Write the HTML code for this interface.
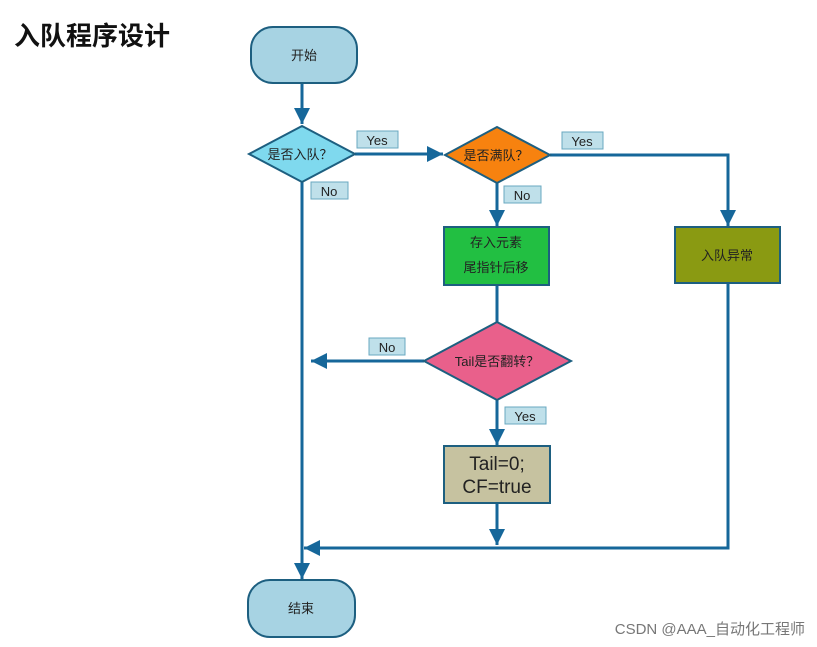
<!DOCTYPE html>
<html><head><meta charset="utf-8"><style>body{margin:0;background:#fff}svg{display:block}text{font-family:"Liberation Sans","Noto Sans CJK SC",sans-serif}</style></head><body>
<svg width="817" height="647" viewBox="0 0 817 647">
<defs><marker id="a" markerWidth="8" markerHeight="8" refX="6" refY="4" orient="auto" markerUnits="userSpaceOnUse"><path d="M0,0 L8,4 L0,8z" fill="#16679a"/></marker>
<marker id="b" markerWidth="18" markerHeight="16" refX="16" refY="8" orient="auto" markerUnits="userSpaceOnUse"><path d="M0,0 L16,8 L0,16z" fill="#16679a"/></marker></defs>
<text x="14" y="45" font-size="26" font-weight="bold" fill="#111">入队程序设计</text>
<g stroke="#16679a" stroke-width="3" fill="none">
<line x1="302" y1="83" x2="302" y2="124" marker-end="url(#b)"/>
<line x1="355" y1="154" x2="443" y2="154" marker-end="url(#b)"/>
<polyline points="550,155 728,155 728,226" marker-end="url(#b)"/>
<line x1="497" y1="183" x2="497" y2="226" marker-end="url(#b)"/>
<line x1="497" y1="285" x2="497" y2="322"/>
<line x1="424" y1="361" x2="311" y2="361" marker-end="url(#b)"/>
<line x1="497" y1="400" x2="497" y2="445" marker-end="url(#b)"/>
<line x1="497" y1="503" x2="497" y2="545" marker-end="url(#b)"/>
<polyline points="728,283 728,548 304,548" marker-end="url(#b)"/>
<line x1="302" y1="182" x2="302" y2="579" marker-end="url(#b)"/>
</g>
<g stroke="#1d5f80" stroke-width="2">
<rect x="251" y="27" width="106" height="56" rx="22" fill="#a7d3e3"/>
<rect x="248" y="580" width="107" height="57" rx="22" fill="#a7d3e3"/>
<polygon points="249,154 302,126 355,154 302,182" fill="#7fd9ee"/>
<polygon points="445,155 497,127 550,155 497,183" fill="#f7820f"/>
<rect x="444" y="227" width="105" height="58" fill="#22bf42"/>
<rect x="675" y="227" width="105" height="56" fill="#8a9a12"/>
<polygon points="424,361 497,322 571,361 497,400" fill="#e9608b"/>
<rect x="444" y="446" width="106" height="57" fill="#c6c2a0"/>
</g>
<g fill="#bfe0ea" stroke="#6aa8c0" stroke-width="1">
<rect x="357" y="131" width="41" height="17"/>
<rect x="311" y="182" width="37" height="17"/>
<rect x="562" y="132" width="41" height="17"/>
<rect x="504" y="186" width="37" height="17"/>
<rect x="369" y="338" width="36" height="17"/>
<rect x="505" y="407" width="41" height="17"/>
</g>
<g font-size="13" fill="#222" text-anchor="middle">
<text x="377" y="145">Yes</text><text x="329" y="196">No</text>
<text x="582" y="146">Yes</text><text x="522" y="200">No</text>
<text x="387" y="352">No</text><text x="525" y="421">Yes</text>
<text x="304" y="60">开始</text><text x="301" y="613">结束</text>
<text x="300" y="159">是否入队？</text>
<text x="496" y="160">是否满队？</text>
<text x="496" y="247">存入元素</text><text x="496" y="272">尾指针后移</text>
<text x="727" y="260">入队异常</text>
<text x="497" y="366">Tail是否翻转？</text>
<text x="497" y="470" font-size="19">Tail=0;</text><text x="497" y="493" font-size="19">CF=true</text>
</g>
<text x="805" y="634" font-size="15" fill="#777" text-anchor="end">CSDN @AAA_自动化工程师</text>
</svg>
</body></html>
